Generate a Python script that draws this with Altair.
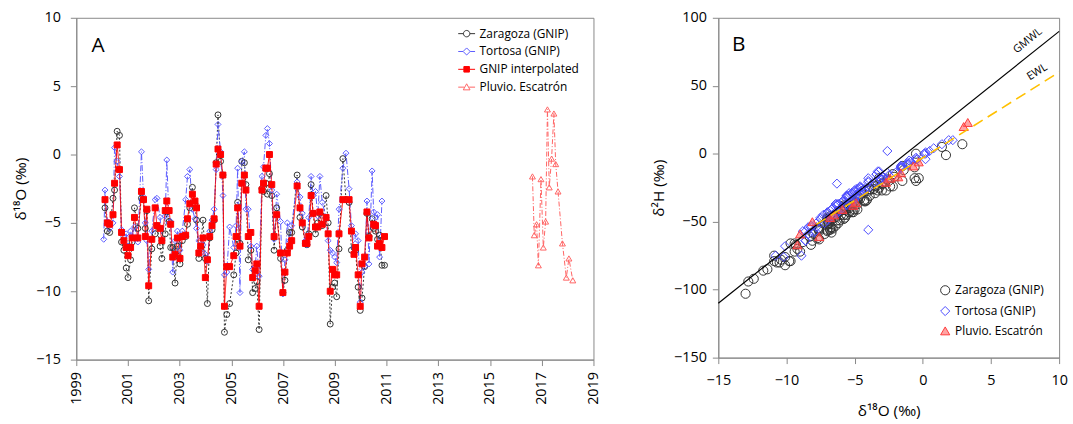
import altair as alt
import pandas as pd

# ---------------- data ----------------
dates = [
    2000.06, 2000.11, 2000.20, 2000.29, 2000.42, 2000.48, 2000.58, 2000.67, 2000.75, 2000.84, 2000.93, 2001.00,
    2001.10, 2001.16, 2001.25, 2001.38, 2001.52, 2001.60, 2001.67, 2001.73, 2001.80, 2001.92, 2002.05, 2002.12,
    2002.24, 2002.31, 2002.44, 2002.50, 2002.59, 2002.65, 2002.73, 2002.82, 2002.91, 2003.01, 2003.10, 2003.23,
    2003.30, 2003.39, 2003.49, 2003.59, 2003.65, 2003.74, 2003.81, 2003.90, 2003.99, 2004.07, 2004.16, 2004.25,
    2004.33, 2004.41, 2004.48, 2004.58, 2004.67, 2004.73, 2004.82, 2004.93, 2005.09, 2005.18, 2005.24, 2005.33,
    2005.40, 2005.50, 2005.56, 2005.65, 2005.75, 2005.82, 2005.92, 2005.98, 2006.07, 2006.18, 2006.24, 2006.33,
    2006.39, 2006.47, 2006.56, 2006.65, 2006.75, 2006.90, 2006.99, 2007.07, 2007.16, 2007.25, 2007.33, 2007.54,
    2007.65, 2007.74, 2007.86, 2007.92, 2007.99, 2008.08, 2008.16, 2008.25, 2008.34, 2008.42, 2008.51, 2008.66,
    2008.74, 2008.82, 2008.91, 2008.99, 2009.07, 2009.16, 2009.31, 2009.43, 2009.55, 2009.64, 2009.74, 2009.80,
    2009.90, 2009.98, 2010.05, 2010.15, 2010.24, 2010.32, 2010.44, 2010.50, 2010.57, 2010.65, 2010.73, 2010.82,
    2010.92]

gnip_interp = [
    None, -3.3, -5.0, -5.1, -4.4, -2.1, 0.7, -1.1, -5.7, -6.3, -6.8, -7.4,
    -6.8, -6.1, -4.6, -6.1, -2.7, -3.3, -6.0, -4.0, -9.6, -6.2, -3.9, -5.2,
    -5.4, -6.3, -4.1, -3.4, -4.1, -5.1, -7.5, -7.3, -6.1, -7.6, -6.0, -5.9,
    -4.7, -3.6, -2.9, -3.4, -3.9, -7.2, -6.7, -6.1, -9.0, -7.7, -6.0, -5.2,
    -4.7, -0.7, 0.4, 0.0, -1.5, -11.1, -8.2, -8.2, -7.4, -6.0, -3.9, -6.7,
    -2.1, -1.5, -2.6, -6.0, -5.7, -9.0, -8.5, -8.0, -11.1, -2.6, -2.1, -1.0,
    -1.0, 0.0, -2.2, -6.0, -4.4, -7.2, -10.1, -8.6, -7.2, -6.7, -6.3, -2.3,
    -3.9, -5.0, -6.5, -6.5, -6.0, -3.0, -4.3, -5.3, -5.3, -4.2, -5.1, -4.6,
    -5.8, -10.0, -8.4, -8.8, -8.8, -5.8, -3.3, None, -3.3, -5.6, -7.3, -6.8,
    -8.8, -11.1, -8.0, -7.5, -4.2, -6.1, None, -5.1, -5.2, -6.7, -6.5, -6.8,
    -6.0]

zaragoza_d18O = [
    None, -3.9, -5.6, -5.7, -3.2, -2.6, 1.7, 1.4, -6.4, -7.0, -8.3, -9.0,
    -7.7, -6.4, -3.9, -5.4, -3.2, -3.3, -5.4, -4.1, -10.7, -6.9, -5.8, -5.2,
    -6.7, -7.6, -5.8, -4.2, -4.9, -6.8, -6.8, -9.4, -6.7, -8.0, -6.3, -6.0,
    -5.1, -3.9, -2.4, -3.6, -4.8, -7.6, -6.8, -4.8, -7.6, -10.9, -6.1, -5.5,
    -4.8, -0.6, 2.9, -0.5, -1.5, -13.0, -11.7, -10.9, -8.8, -7.2, -3.5, -6.5,
    -0.5, -0.6, -2.2, -7.7, -7.0, -10.1, -9.8, -9.3, -12.8, -2.5, -2.7, -2.1,
    -2.9, -1.4, -3.0, -7.0, -3.9, -7.6, -10.1, -9.2, -7.0, -5.7, -5.7, -1.5,
    -4.6, -5.3, -6.5, -6.6, -5.8, -2.2, -4.3, -5.8, -5.0, -4.3, -5.2, -3.0,
    -5.0, -12.4, -9.7, -9.4, -10.4, -6.9, -0.3, -3.3, -3.5, -7.0, -6.8, -7.0,
    -9.7, -11.4, -10.5, -8.2, -4.3, -6.0, -4.7, -5.4, -5.6, -6.2, -5.9, -8.1,
    -8.1]

tortosa_d18O = [
    -6.2, -2.6, -4.9, -5.4, -5.0, 0.5, -0.5, -1.6, -5.5, -6.0, -5.8, -6.7,
    -5.6, -6.0, -5.3, -6.4, 0.2, -3.1, -5.0, -6.3, -8.4, -5.6, -3.3, -3.2,
    -4.6, -6.3, -4.5, -0.4, -5.0, -4.9, -8.6, -6.3, -5.6, -7.0, -5.6, -3.3,
    -1.6, -1.1, -4.0, -4.7, -5.4, -6.3, -7.0, -6.6, -7.3, -7.8, -5.6, -4.8,
    -4.0, -1.1, 2.2, 0.2, -3.0, -8.8, -8.6, -5.3, -6.8, -5.2, -1.0, -10.1,
    -0.5, 0.2, -4.0, -4.0, -6.7, -8.4, -8.2, -6.7, -8.9, -1.6, -0.9, 1.4,
    1.9, 0.8, -2.6, -6.2, -2.9, -4.9, -10.2, -7.7, -5.0, -6.3, -5.2, -2.0,
    -3.1, -4.3, -6.3, -6.6, -4.6, -1.6, -3.0, -2.7, -4.5, -1.6, -3.5, -4.6,
    -6.3, -7.0, -7.2, -7.5, -7.9, -4.0, -1.0, 0.1, -2.5, -5.2, -6.8, -5.8,
    -6.3, -10.8, -8.6, -8.2, -3.4, -8.0, -1.2, -4.2, -4.6, -4.4, -7.5, -3.4,
    None]

zaragoza_d2H = [
    None, -26, -45, -40, -25, -19, -1, 5, -47, -57, -61, -72,
    -55, -53, -31, -40, -18, -27, -37, -34, -80, -52, -48, -38,
    -58, -56, -39, -35, -36, -48, -55, -66, -54, -59, -49, -42,
    -43, -27, -24, -26, -41, -57, -46, -33, -63, -79, -49, -38,
    -37, -18, 7, 0, -9, -103, -86, -75, -65, -59, -24, -46,
    -20, -10, -24, -62, -49, -76, -79, -67, -94, -20, -27, -17,
    -22, -12, -22, -56, -26, -55, -82, -70, -48, -47, -41, -20,
    -33, -42, -47, -55, -38, -15, -34, -45, -35, -27, -43, -27,
    -41, -92, -66, -72, -78, -51, -18, -23, -29, -52, -56, -47,
    -79, -85, -80, -67, -35, -45, -32, -43, -41, -51, -41, -64,
    -58]

tortosa_d2H = [
    -37, -14, -32, -31, -34, 2, -4, -10, -31, -41, -35, -46,
    -31, -36, -35, -37, 1, -18, -28, -42, -54, -38, -20, -13,
    -29, -22, -25, -4, -27, -31, -64, -38, -31, -49, -37, -13,
    -9, -8, -25, -26, -29, -43, -44, -45, -45, -54, -32, -30,
    -20, -7, 10, 0, -19, -57, -57, -36, -42, -29, -7, -68,
    -3, -4, -18, -56, -41, -59, -53, -46, -75, -10, -6, 7,
    10, 4, 2, -43, -17, -26, -76, -50, -33, -37, -34, -14,
    -19, -26, -38, -40, -28, -11, -19, -18, -29, -9, -21, -24,
    -42, -43, -51, -48, -57, -21, -5, 0, -16, -29, -47, -34,
    -44, -75, -64, -54, -15, -58, -8, -27, -25, -27, -47, -15,
    None]

esc_dates = [2016.64, 2016.71, 2016.80, 2016.87, 2016.97, 2017.06, 2017.15, 2017.22, 2017.29,
             2017.38, 2017.47, 2017.54, 2017.63, 2017.80, 2017.95, 2018.05, 2018.20]
esc_d18O = [-1.6, -5.9, -5.1, -8.1, -1.8, -6.8, -4.9, 3.3, -2.4, -0.3, 3.0, -0.7, -2.7, -6.5, -9.0, -7.6, -9.2]
esc_d2H = [-14, -41, -38, -50, -17, -47, -36, 23, -18, -6, 20, -9, -21, -45, -59, -61, -67]

gmwl_x = [-15, 10]
gmwl_y = [-110, 90]
ewl_x = [-7.8, 10]
ewl_y = [-52, 60]

names_a = ["Zaragoza (GNIP)", "Tortosa (GNIP)", "GNIP interpolated", "Pluvio. Escatrón"]
names_b = ["Zaragoza (GNIP)", "Tortosa (GNIP)", "Pluvio. Escatrón"]

FONT = "Open Sans"

# ---------------- tables ----------------
rows_a = []
for name, xs, ys in [(names_a[0], dates, zaragoza_d18O), (names_a[1], dates, tortosa_d18O),
                     (names_a[2], dates, gnip_interp), (names_a[3], esc_dates, esc_d18O)]:
    for x, y in zip(xs, ys):
        if y is not None:
            rows_a.append({"date": x, "d18O": y, "series": name})
df_a = pd.DataFrame(rows_a)

rows_b = []
for name, xs, ys in [(names_b[0], zaragoza_d18O, zaragoza_d2H), (names_b[1], tortosa_d18O, tortosa_d2H),
                     (names_b[2], esc_d18O, esc_d2H)]:
    for x, y in zip(xs, ys):
        if x is not None and y is not None:
            rows_b.append({"d18O": x, "d2H": y, "series": name})
df_b = pd.DataFrame(rows_b)

df_gmwl = pd.DataFrame({"d18O": gmwl_x, "d2H": gmwl_y})
df_ewl = pd.DataFrame({"d18O": ewl_x, "d2H": ewl_y})

# ---------------- panel A ----------------
xa = alt.X("date:Q", scale=alt.Scale(domain=[1999, 2019], nice=False, zero=False),
           axis=alt.Axis(values=list(range(1999, 2020, 2)), format="d", labelAngle=270,
                         labelAlign="right", labelBaseline="middle", labelPadding=6,
                         labelFlush=False, title=None))
ya = alt.Y("d18O:Q", scale=alt.Scale(domain=[-15, 10], nice=False),
           axis=alt.Axis(values=[-15, -10, -5, 0, 5, 10], title="δ¹⁸O (‰)", titlePadding=7, labelPadding=10))

stroke_range_a = ["#333333", "#5c5cff", "#ff0000", "#ff6464"]
fill_range_a = ["transparent", "transparent", "#ff0000", "transparent"]

lines_a = alt.Chart(df_a).mark_line(strokeWidth=1).encode(
    x=xa, y=ya,
    stroke=alt.Stroke("series:N", scale=alt.Scale(domain=names_a, range=stroke_range_a), legend=None),
    strokeDash=alt.StrokeDash("series:N", scale=alt.Scale(domain=names_a, range=[[2, 2], [6, 2, 1, 2], [1, 0], [5, 2, 1, 2]]), legend=None),
    order="date:Q",
)

pts_a = alt.Chart(df_a).mark_point(size=36, strokeWidth=1, opacity=1).encode(
    x=xa, y=ya,
    stroke=alt.Stroke("series:N", scale=alt.Scale(domain=names_a, range=stroke_range_a), legend=None),
    fill=alt.Fill("series:N", scale=alt.Scale(domain=names_a, range=fill_range_a), legend=None),
    shape=alt.Shape("series:N", scale=alt.Scale(domain=names_a, range=["circle", "diamond", "square", "triangle-up"]), legend=None),
)

circ = "M-1,0H-0.38M0.38,0H1M0.38,0A0.38,0.38,0,1,1,-0.38,0A0.38,0.38,0,1,1,0.38,0Z"
diam = "M-1,0H-0.42M0.42,0H1M0,-0.42L0.42,0L0,0.42L-0.42,0Z"
sq = "M-1,0H-0.33M0.33,0H1M-0.33,-0.33H0.33V0.33H-0.33Z"
tri = "M-1,0H-0.3M0.3,0H1M0,-0.4L0.4,0.32L-0.4,0.32Z"

leg_a = alt.Legend(title=None, orient="none", legendX=385, legendY=7, symbolSize=289,
                   symbolStrokeWidth=1, labelFont=FONT, labelFontSize=12, labelOffset=4,
                   rowPadding=3, symbolOpacity=1, padding=0, labelColor="black")

legend_layer_a = alt.Chart(df_a).transform_filter("false").mark_point(size=36, strokeWidth=1, opacity=1).encode(
    x=xa, y=ya,
    stroke=alt.Stroke("series:N", scale=alt.Scale(domain=names_a, range=stroke_range_a), legend=leg_a),
    fill=alt.Fill("series:N", scale=alt.Scale(domain=names_a, range=fill_range_a), legend=leg_a),
    shape=alt.Shape("series:N", scale=alt.Scale(domain=names_a, range=[circ, diam, sq, tri]), legend=leg_a),
)

label_a = alt.Chart(pd.DataFrame({"date": [1999.84], "d18O": [7.97], "t": ["A"]})).mark_text(
    font=FONT, fontSize=21, color="black", baseline="middle", align="center").encode(x=xa, y=ya, text="t:N")

panel_a = alt.layer(lines_a, pts_a, legend_layer_a, label_a).resolve_scale(
    stroke="independent", fill="independent", shape="independent", strokeDash="independent"
).properties(width=522, height=345)

# ---------------- panel B ----------------
xb = alt.X("d18O:Q", scale=alt.Scale(domain=[-15, 10], nice=False),
           axis=alt.Axis(values=[-15, -10, -5, 0, 5, 10], title="δ¹⁸O (‰)", labelPadding=10,
                         titlePadding=17, labelFlush=False))
yb = alt.Y("d2H:Q", scale=alt.Scale(domain=[-150, 100], nice=False),
           axis=alt.Axis(values=[-150, -100, -50, 0, 50, 100], title="δ²H (‰)", labelPadding=6, titlePadding=7))

# legend offsets in a concat are measured from the first panel's origin
leg_b = alt.Legend(title=None, orient="none", legendX=871, legendY=269, symbolSize=85,
                   symbolStrokeWidth=1, labelFont=FONT, labelFontSize=12, labelOffset=4,
                   rowPadding=7, symbolOpacity=1, padding=0, labelColor="black")

pts_b = alt.Chart(df_b).mark_point(size=85, strokeWidth=1, opacity=1).encode(
    x=xb, y=yb,
    stroke=alt.Stroke("series:N", scale=alt.Scale(domain=names_b, range=["#333333", "#4b4bff", "#ff3b3b"]), legend=leg_b),
    fill=alt.Fill("series:N", scale=alt.Scale(domain=names_b, range=["transparent", "transparent", "rgba(255,90,90,0.55)"]), legend=leg_b),
    shape=alt.Shape("series:N", scale=alt.Scale(domain=names_b, range=["circle", "diamond", "triangle-up"]), legend=leg_b),
)

gmwl = alt.Chart(df_gmwl).mark_line(color="black", strokeWidth=1.2).encode(x=xb, y=yb)
ewl = alt.Chart(df_ewl).mark_line(color="#ffc000", strokeWidth=1.6, strokeDash=[11, 6]).encode(x=xb, y=yb)

gmwl_lbl = alt.Chart(pd.DataFrame({"d18O": [7.7], "d2H": [83.0], "t": ["GMWL"]})).mark_text(
    font=FONT, fontSize=11, angle=321, color="black", baseline="middle", align="center").encode(x=xb, y=yb, text="t:N")
ewl_lbl = alt.Chart(pd.DataFrame({"d18O": [8.4], "d2H": [60.0], "t": ["EWL"]})).mark_text(
    font=FONT, fontSize=11, angle=328, color="black", baseline="middle", align="center").encode(x=xb, y=yb, text="t:N")
label_b = alt.Chart(pd.DataFrame({"d18O": [-13.5], "d2H": [79.6], "t": ["B"]})).mark_text(
    font=FONT, fontSize=21, color="black", baseline="middle", align="center").encode(x=xb, y=yb, text="t:N")

panel_b = alt.layer(pts_b, gmwl, ewl, gmwl_lbl, ewl_lbl, label_b).properties(width=344, height=343)

chart = alt.hconcat(panel_a, panel_b, spacing=51).properties(
    padding={"left": 13, "top": 7, "right": 5, "bottom": 0}
).configure_view(stroke="#888888", strokeWidth=1).configure_axis(
    grid=False, domainColor="#888888", tickColor="#888888", tickSize=6,
    labelColor="black", titleColor="black", labelFont=FONT, titleFont=FONT,
    labelFontSize=14.5, titleFontSize=15.5, titleFontWeight="normal",
)

chart.save("out.html", embed_options={"renderer": "svg", "actions": False})
